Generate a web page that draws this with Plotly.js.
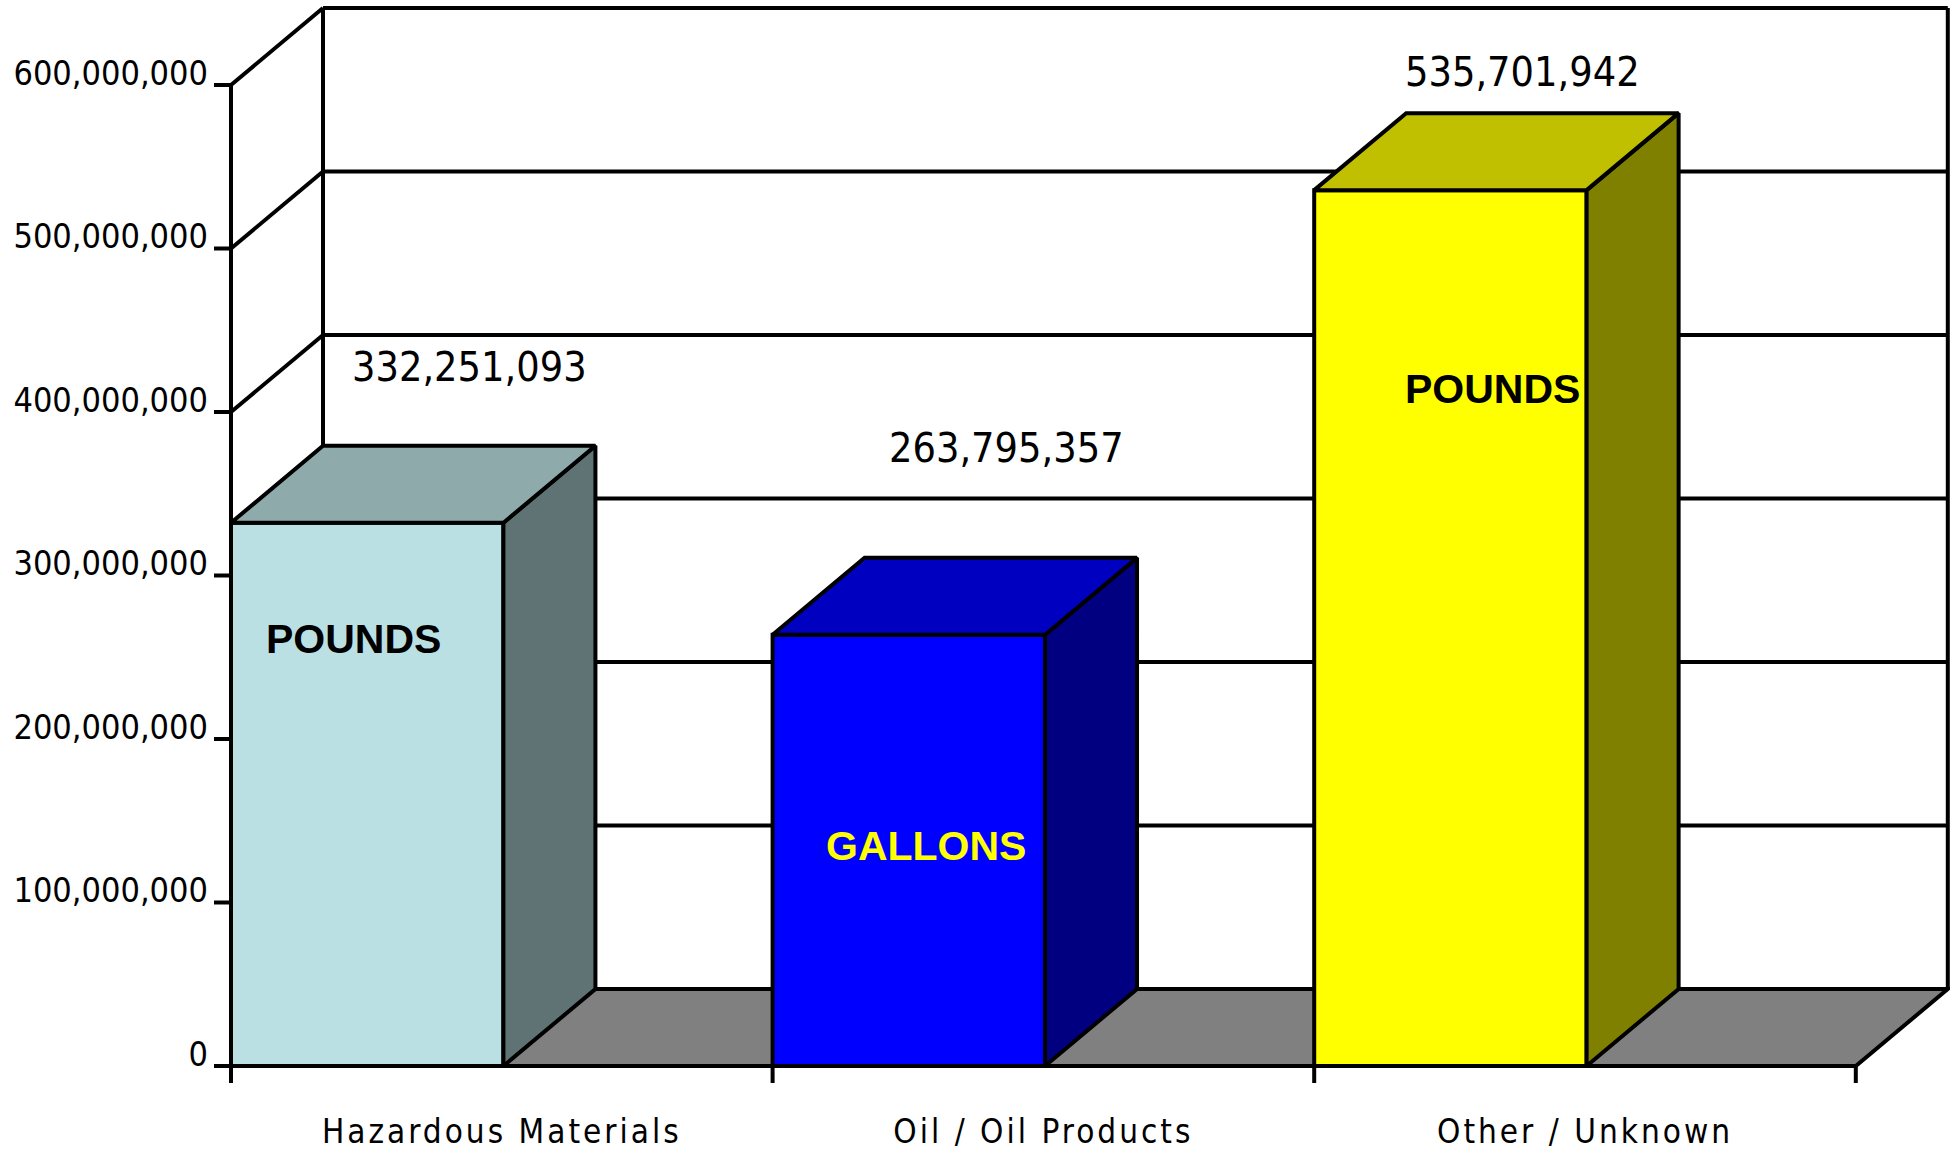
<!DOCTYPE html>
<html>
<head>
<meta charset="utf-8">
<script src="https://cdn.plot.ly/plotly-3.0.1.min.js"></script>
<style>
body { margin: 0; background: #fff; }
#chart { width: 1956px; height: 1151px; }
.xtick text { letter-spacing: 3px; }
</style>
</head>
<body>
<div id="chart"></div>
<script>
// data
var categories = ['Hazardous Materials', 'Oil / Oil Products', 'Other / Unknown'];
var totals = [332251093, 263795357, 535701942];
var units = ['POUNDS', 'GALLONS', 'POUNDS'];
var yTicks = [0, 100000000, 200000000, 300000000, 400000000, 500000000, 600000000];

// face colours (front / top / side)
var frontCol = ['#bbe0e3', '#0000ff', '#ffff00'];
var topCol = ['#8eaaab', '#0000c0', '#c0c000'];
var sideCol = ['#5f7374', '#000080', '#808000'];
var unitCol = ['#000000', '#ffff00', '#000000'];

// label placement (px shifts / fraction of bar height)
var valShift = [[10, 79], [6, 110], [-20, 41]];
var unitShift = [-14, 17, 42];
var unitFrac = [0.786, 0.51, 0.773];

// geometry of the fake 3d box
var pxX = 541.6;        // px per category
var pxY = 163.5e-8;     // px per unit of value
var bw = 0.503;         // bar width (categories)
var dx = 92 / pxX;      // depth offset
var dy = 77 / pxY;
var yTop = yTicks[yTicks.length - 1];
var xL = -0.5, xR = categories.length - 0.5;
var lw = 4;

var data = [];
var xs = categories.map(function (c, i) { return i; });

// front faces
data.push({
    type: 'bar',
    x: xs,
    y: totals,
    width: bw,
    offset: -0.5,
    marker: { color: frontCol, line: { color: '#000', width: lw } },
    hoverinfo: 'skip'
});

// side and top faces
for (var i = 0; i < totals.length; i++) {
    var x0 = i - 0.5, x1 = x0 + bw, v = totals[i];
    data.push({
        type: 'scatter', mode: 'lines', fill: 'toself',
        x: [x1, x1 + dx, x1 + dx, x1, x1],
        y: [0, dy, v + dy, v, 0],
        fillcolor: sideCol[i],
        line: { color: '#000', width: lw },
        hoverinfo: 'skip'
    });
    data.push({
        type: 'scatter', mode: 'lines', fill: 'toself',
        x: [x0, x0 + dx, x1 + dx, x1, x0],
        y: [v, v + dy, v + dy, v, v],
        fillcolor: topCol[i],
        line: { color: '#000', width: lw },
        hoverinfo: 'skip'
    });
}

// walls, floor, ticks
var shapes = [];
function seg(ax, ay, bx, by) {
    shapes.push({ type: 'line', xref: 'x', yref: 'y', layer: 'below',
        x0: ax, y0: ay, x1: bx, y1: by, line: { color: '#000', width: lw } });
}
shapes.push({ type: 'path', xref: 'x', yref: 'y', layer: 'below',
    path: 'M' + xL + ',0 L' + xR + ',0 L' + (xR + dx) + ',' + dy + ' L' + (xL + dx) + ',' + dy + ' Z',
    fillcolor: '#808080', line: { color: '#000', width: lw } });
seg(xL, 0, xL, yTop);
seg(xL + dx, dy, xL + dx, yTop + dy);
seg(xR + dx, dy, xR + dx, yTop + dy);
yTicks.forEach(function (t) {
    seg(xL, t, xL + dx, t + dy);
    seg(xL + dx, t + dy, xR + dx, t + dy);
    seg(xL - 17 / pxX, t, xL, t);
});
for (var b = 0; b <= categories.length; b++) {
    seg(b - 0.5, 0, b - 0.5, -17 / pxY);
}

// labels
var annotations = [];
for (var i = 0; i < totals.length; i++) {
    annotations.push({
        x: i - 0.5 + bw / 2 + dx, y: totals[i] + dy,
        xshift: valShift[i][0], yshift: valShift[i][1],
        text: totals[i].toLocaleString('en-US'), showarrow: false,
        xanchor: 'center', yanchor: 'middle',
        font: { family: 'DejaVu Sans Condensed, DejaVu Sans, sans-serif', size: 41, color: '#000' }
    });
    annotations.push({
        x: i - 0.5 + bw / 2, y: totals[i] * unitFrac[i],
        xshift: unitShift[i],
        text: units[i], showarrow: false,
        xanchor: 'center', yanchor: 'middle',
        font: { family: 'Liberation Sans, Arial, sans-serif', size: 41, weight: 'bold', color: unitCol[i] }
    });
}

var layout = {
    width: 1956, height: 1151,
    margin: { l: 211, r: 6, t: 5, b: 65 },
    paper_bgcolor: '#fff', plot_bgcolor: '#fff',
    showlegend: false,
    xaxis: {
        range: [xL - 20 / pxX, xL + (1950 - 231) / pxX],
        tickvals: xs, ticktext: categories,
        ticks: '', showgrid: false, zeroline: false, showline: false,
        tickfont: { family: 'DejaVu Sans Condensed, DejaVu Sans, sans-serif', size: 33, color: '#000' },
        ticklabelstandoff: 23
    },
    yaxis: {
        range: [-20 / pxY, 1061 / pxY],
        tickvals: yTicks, tickformat: ',d',
        ticks: '', showgrid: false, zeroline: false, showline: false,
        tickfont: { family: 'DejaVu Sans Condensed, DejaVu Sans, sans-serif', size: 34, color: '#000' },
        ticklabelshift: -12, ticklabelstandoff: 2
    },
    shapes: shapes,
    annotations: annotations
};

Plotly.newPlot('chart', data, layout, { staticPlot: true });
</script>
</body>
</html>
